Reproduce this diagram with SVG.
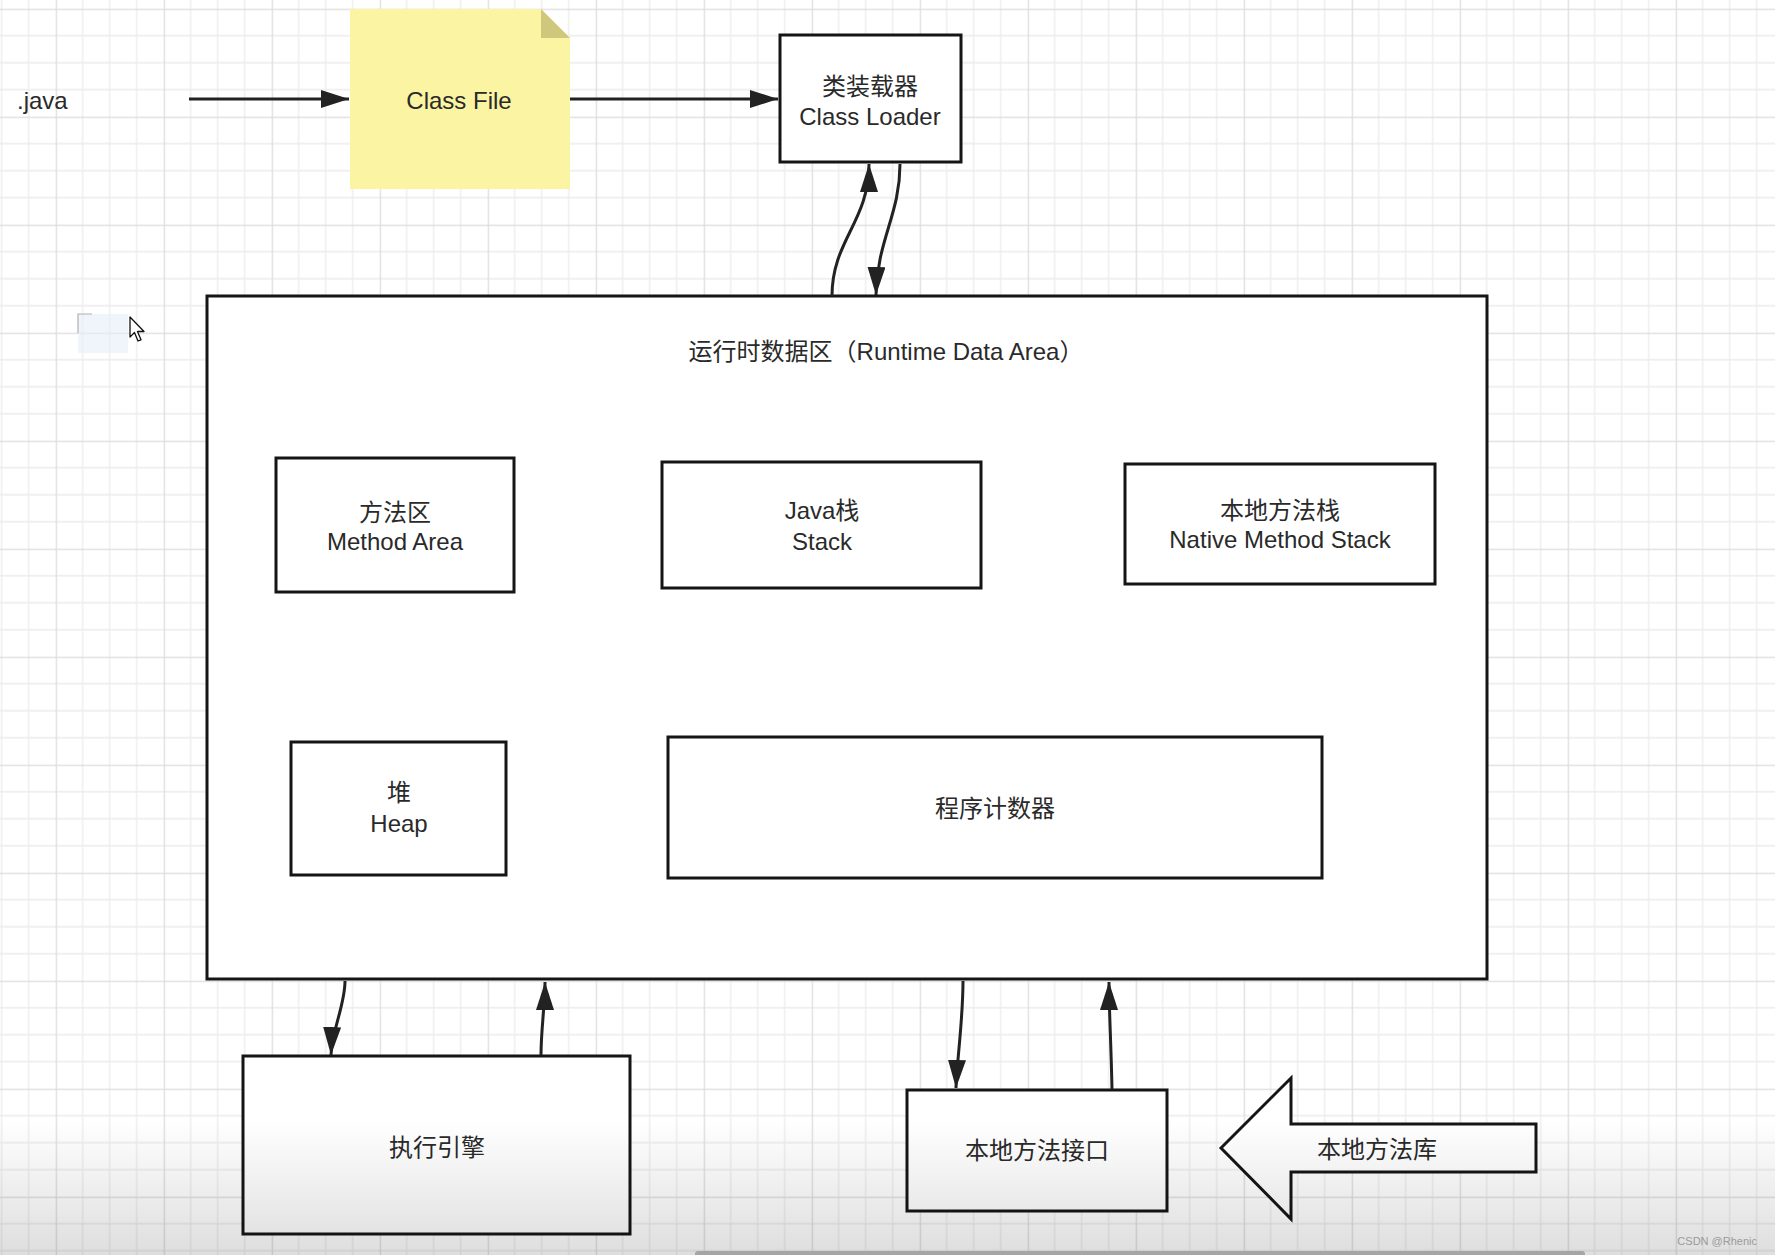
<svg xmlns="http://www.w3.org/2000/svg" width="1775" height="1255" viewBox="0 0 1775 1255">
<defs>
  <style>
    .box { fill: #ffffff; stroke: #151515; stroke-width: 3; }
    .t { font-family: "Liberation Sans", "Noto Sans CJK SC", sans-serif; font-size: 24px; fill: #2a2a2a; text-anchor: middle; dominant-baseline: central; }
    .conn { fill: none; stroke: #222222; stroke-width: 3; }
  </style>
  <pattern id="grid" patternUnits="userSpaceOnUse" x="55.7" y="8.7" width="108" height="108">
    <path d="M27,0 V108 M54,0 V108 M81,0 V108 M0,27 H108 M0,54 H108 M0,81 H108" stroke="#ececec" stroke-width="1.3" fill="none"/>
    <path d="M0.5,0 V108 M0,0.5 H108" stroke="#dcdcdc" stroke-width="1.5" fill="none"/>
  </pattern>
  <marker id="arr" markerUnits="userSpaceOnUse" markerWidth="28" markerHeight="18" refX="28" refY="9" orient="auto">
    <path d="M0,0 L28,9 L0,18 z" fill="#222222"/>
  </marker>
  <linearGradient id="shade" x1="0" y1="0" x2="0" y2="1">
    <stop offset="0" stop-color="#000" stop-opacity="0"/>
    <stop offset="1" stop-color="#000" stop-opacity="0.13"/>
  </linearGradient>
</defs>

<rect x="0" y="0" width="1775" height="1255" fill="#ffffff"/>
<rect x="0" y="0" width="1775" height="1255" fill="url(#grid)"/>

<!-- cursor and selection remnant -->
<g id="cursor">
  <rect x="78" y="314" width="50" height="39" fill="#e6eefa" opacity="0.6"/>
  <path d="M78,333 V314 H92" fill="none" stroke="#b0b0b0" stroke-width="1.2"/>
  <path d="M130,317 L130,337 L134.5,332.5 L138,341 L141,339.8 L137.5,331.5 L144,331.5 Z" fill="#ffffff" stroke="#111" stroke-width="1.3" stroke-linejoin="round"/>
</g>

<g id="nodes">
  <g id="java">
    <text class="t" x="17" y="100" style="text-anchor:start">.java</text>
  </g>
  <g id="classfile">
    <path d="M350,9 H541 L570,38 V189 H350 Z" fill="#fbf5a3"/>
    <path d="M541,9 L570,38 H541 Z" fill="#cfc87c"/>
    <text class="t" x="459" y="100">Class File</text>
  </g>
  <g id="classloader">
    <rect class="box" x="780" y="35" width="181" height="127"/>
    <text class="t" x="870" y="86">类装载器</text>
    <text class="t" x="870" y="116">Class Loader</text>
  </g>
  <g id="runtime">
    <rect class="box" x="207" y="296" width="1280" height="683"/>
    <text class="t" x="886" y="351">运行时数据区（Runtime Data Area）</text>
  </g>
  <g id="methodarea">
    <rect class="box" x="276" y="458" width="238" height="134"/>
    <text class="t" x="395" y="512">方法区</text>
    <text class="t" x="395" y="541">Method Area</text>
  </g>
  <g id="stack">
    <rect class="box" x="662" y="462" width="319" height="126"/>
    <text class="t" x="822" y="510">Java栈</text>
    <text class="t" x="822" y="541">Stack</text>
  </g>
  <g id="nativestack">
    <rect class="box" x="1125" y="464" width="310" height="120"/>
    <text class="t" x="1280" y="510">本地方法栈</text>
    <text class="t" x="1280" y="539">Native Method Stack</text>
  </g>
  <g id="heap">
    <rect class="box" x="291" y="742" width="215" height="133"/>
    <text class="t" x="399" y="792">堆</text>
    <text class="t" x="399" y="823">Heap</text>
  </g>
  <g id="pc">
    <rect class="box" x="668" y="737" width="654" height="141"/>
    <text class="t" x="995" y="808">程序计数器</text>
  </g>
  <g id="engine">
    <rect class="box" x="243" y="1056" width="387" height="178"/>
    <text class="t" x="437" y="1147">执行引擎</text>
  </g>
  <g id="nativeinterface">
    <rect class="box" x="907" y="1090" width="260" height="121"/>
    <text class="t" x="1037" y="1150">本地方法接口</text>
  </g>
  <g id="nativelib">
    <path class="box" d="M1221,1148 L1291,1078 V1124 H1536 V1172 H1291 V1219 Z" stroke-linejoin="miter"/>
    <text class="t" x="1377" y="1149">本地方法库</text>
  </g>
</g>

<g id="connectors">
  <path class="conn" d="M189,99 H349" marker-end="url(#arr)"/>
  <path class="conn" d="M570,99 H778" marker-end="url(#arr)"/>
  <path class="conn" d="M832,296 C832,240 869,222 869,164" marker-end="url(#arr)"/>
  <path class="conn" d="M900,164 C900,215 877,240 876,295" marker-end="url(#arr)"/>
  <path class="conn" d="M345,981 C345,1005 332,1030 331,1055" marker-end="url(#arr)"/>
  <path class="conn" d="M541,1055 C541,1030 545,1005 545,982" marker-end="url(#arr)"/>
  <path class="conn" d="M963,981 C963,1020 957,1060 956,1088" marker-end="url(#arr)"/>
  <path class="conn" d="M1112,1089 C1111,1040 1109,1010 1109,982" marker-end="url(#arr)"/>
</g>

<rect x="0" y="1120" width="1775" height="135" fill="url(#shade)"/>
<rect x="695" y="1251" width="890" height="6" rx="3" fill="#a5a5a5"/>
<text x="1757" y="1241" style="font-family:'Liberation Sans',sans-serif;font-size:11px;fill:#9a9a9a;text-anchor:end;dominant-baseline:central">CSDN @Rhenic</text>
</svg>
